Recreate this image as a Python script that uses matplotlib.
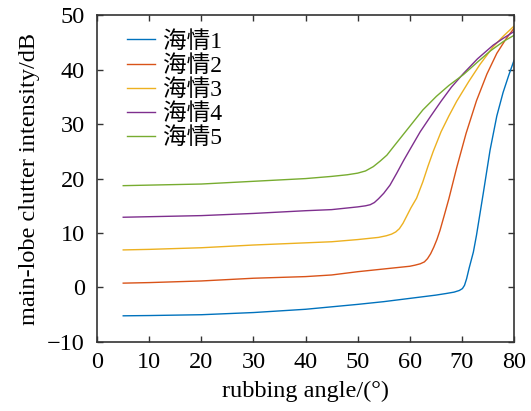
import matplotlib
matplotlib.use("Agg")
import matplotlib.pyplot as plt

plt.rcParams['font.family'] = ['Liberation Serif', 'Noto Sans CJK SC']

# 读图估计的数据
x1 = [5, 10, 20, 30, 40, 50, 55, 60, 65, 67, 68.5, 69.5, 70.1, 70.5, 70.9, 71.4, 72.2, 72.8, 74.1, 75.4, 76.7, 77.9, 79, 80]
y1 = [-5.2, -5.15, -5.0, -4.6, -4.0, -3.1, -2.6, -2.0, -1.4, -1.1, -0.85, -0.55, -0.2, 0.4, 1.6, 3.6, 6.5, 9.6, 17.3, 25.2, 31.5, 35.8, 39.0, 41.7]

x2 = [5, 10, 20, 30, 40, 45, 50, 55, 60, 61, 62, 62.8, 63.4, 64, 64.6, 65.2, 65.8, 66.6, 67.5, 69, 70.8, 72.8, 74.8, 76.7, 78.5, 80]
y2 = [0.8, 0.9, 1.2, 1.7, 2.0, 2.3, 2.9, 3.4, 3.9, 4.1, 4.35, 4.7, 5.3, 6.2, 7.4, 8.8, 10.5, 13.2, 16.3, 22.0, 28.3, 34.3, 39.2, 43.0, 45.7, 47.6]

x3 = [5, 10, 20, 30, 40, 45, 50, 54, 55.5, 56.5, 57.3, 58, 58.7, 59.4, 60.2, 61.3, 62.5, 63.5, 64.5, 66, 67.5, 69, 71.3, 73.5, 76, 78, 80]
y3 = [6.9, 7.0, 7.3, 7.8, 8.2, 8.4, 8.8, 9.2, 9.5, 9.8, 10.2, 10.8, 11.8, 13.1, 14.6, 16.4, 19.4, 22.3, 25.0, 28.6, 31.5, 34.2, 37.8, 41.0, 44.2, 46.2, 48.0]

x4 = [5, 10, 20, 30, 40, 45, 50, 51.5, 52.4, 53.2, 54, 55, 56.2, 57.5, 58.8, 60, 62, 63.9, 66, 68, 70.3, 73, 76, 78, 80]
y4 = [12.9, 13.0, 13.2, 13.6, 14.1, 14.3, 14.8, 15.0, 15.2, 15.6, 16.3, 17.3, 18.8, 21.0, 23.3, 25.3, 28.6, 31.3, 34.2, 36.8, 39.3, 42.0, 44.5, 45.8, 47.0]

x5 = [5, 10, 20, 30, 40, 45, 48, 50, 51.5, 53, 54.3, 55.6, 57, 58.5, 60, 62.5, 65.1, 67.5, 70.3, 73, 75.4, 78, 80]
y5 = [18.7, 18.8, 19.0, 19.5, 20.0, 20.4, 20.7, 21.0, 21.4, 22.2, 23.2, 24.3, 26.0, 27.8, 29.6, 32.6, 35.1, 37.1, 39.1, 41.4, 43.4, 45.2, 46.3]

labels = ['海情1', '海情2', '海情3', '海情4', '海情5']
colors = ['#0072BD', '#D95319', '#EDB120', '#7E2F8E', '#77AC30']

fig = plt.figure(figsize=(5.31, 4.11), dpi=100)
ax = fig.add_axes([0.183, 0.168, 0.785, 0.795])

for xs, ys, lab, c in zip([x1, x2, x3, x4, x5], [y1, y2, y3, y4, y5], labels, colors):
    ax.plot(xs, ys, color=c, lw=1.0, label=lab)

ax.set_xlim(0, 80)
ax.set_ylim(-10, 50)
ax.set_xticks(range(0, 81, 10))
ax.set_yticks(range(-10, 51, 10))
ax.set_yticklabels(['\u221210'] + [str(v) for v in range(0, 51, 10)])
ax.tick_params(direction='in', top=True, right=True, labelsize=17.5, length=4, width=1,
               color='#333333')
ax.tick_params(axis='x', pad=7)
ax.tick_params(axis='y', pad=9)
for s in ax.spines.values():
    s.set_color('#333333')
    s.set_linewidth(1.2)

ax.set_xlabel('rubbing angle/(°)', fontsize=17.5, labelpad=6)
ax.set_ylabel('main-lobe clutter intensity/dB', fontsize=17.5, labelpad=5)

ax.legend(loc='upper left', bbox_to_anchor=(0.037, 0.995), frameon=False, fontsize=17,
          handlelength=1.2, handletextpad=0.35, labelspacing=0.1, borderaxespad=0.2)

fig.savefig('out.png', dpi=100)
